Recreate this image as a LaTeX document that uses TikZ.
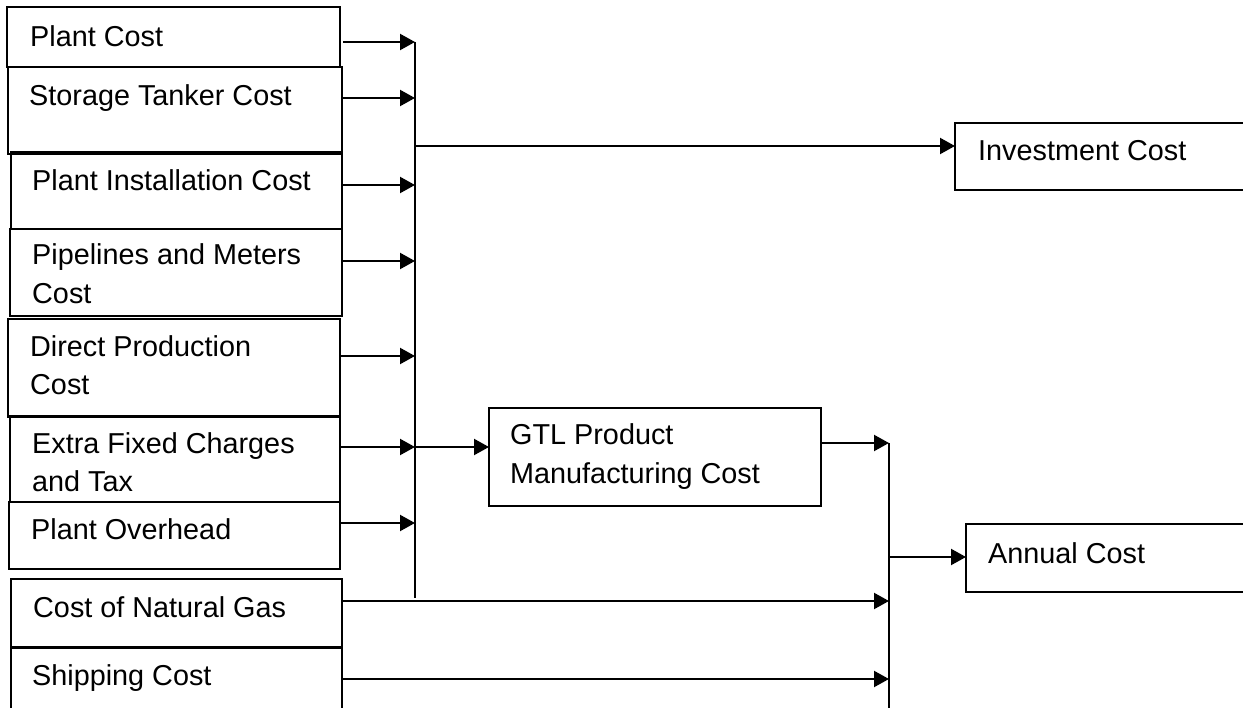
\documentclass[tikz,border=0pt]{standalone}
\usepackage{fontspec}
\setmainfont{Liberation Sans}
\usetikzlibrary{arrows.meta}
\begin{document}
\begin{tikzpicture}[x=1pt,y=-1pt,
  box/.style={draw,line width=2.1pt,inner sep=0pt,outer sep=0pt},
  txt/.style={anchor=base west,inner sep=0pt,font=\fontsize{28.8}{38}\selectfont},
  conn/.style={line width=2.1pt},
  arr/.style={line width=2.1pt,-{Triangle[length=15pt,width=16pt]}}]
\useasboundingbox (0,0) rectangle (1243,708);
\clip (0,0) rectangle (1243,708);
% boxes
\node[box,minimum width=333pt,minimum height=60pt,anchor=north west] (b1) at (7,7) {};
\node[box,minimum width=334pt,minimum height=87pt,anchor=north west] (b2) at (8,67) {};
\node[box,minimum width=331pt,minimum height=77pt,anchor=north west] (b3) at (11,152) {};
\node[box,minimum width=332pt,minimum height=87pt,anchor=north west] (b4) at (10,229) {};
\node[box,minimum width=332pt,minimum height=98pt,anchor=north west] (b5) at (8,319) {};
\node[box,minimum width=330pt,minimum height=86pt,anchor=north west] (b6) at (10,416) {};
\node[box,minimum width=331pt,minimum height=67pt,anchor=north west] (b7) at (9,502) {};
\node[box,minimum width=331pt,minimum height=68pt,anchor=north west] (b8) at (11,579) {};
\node[box,minimum width=331pt,minimum height=90pt,anchor=north west] (b9) at (11,648) {};
\node[box,minimum width=332pt,minimum height=98pt,anchor=north west] (gtl) at (489,408) {};
\node[box,minimum width=320pt,minimum height=67pt,anchor=north west] (inv) at (955,123) {};
\node[box,minimum width=320pt,minimum height=68pt,anchor=north west] (ann) at (966,524) {};
% texts
\node[txt] (t1) at (30,47) {Plant Cost};
\node[txt] (t2) at (29,106) {Storage Tanker Cost};
\node[txt] (t3) at (32,191) {Plant Installation Cost};
\node[txt] (t4a) at (32,265) {Pipelines and Meters};
\node[txt] (t4b) at (32,304) {Cost};
\node[txt] (t5a) at (30,357) {Direct Production};
\node[txt] (t5b) at (30,395) {Cost};
\node[txt] (t6a) at (32,454) {Extra Fixed Charges};
\node[txt] (t6b) at (32,492) {and Tax};
\node[txt] (t7) at (31,539) {Plant Overhead};
\node[txt] (t8) at (33,617) {Cost of Natural Gas};
\node[txt] (t9) at (32,685) {Shipping Cost};
\node[txt] (tg1) at (510,445) {GTL Product};
\node[txt] (tg2) at (510,484) {Manufacturing Cost};
\node[txt] (ti) at (978,161) {Investment Cost};
\node[txt] (ta) at (988,563) {Annual Cost};
% bus 1 junctions
\coordinate (j1) at (415,42);
\coordinate (j2) at (415,98);
\coordinate (jinv) at (415,146);
\coordinate (j3) at (415,185);
\coordinate (j4) at (415,261);
\coordinate (j5) at (415,356);
\coordinate (j6) at (415,447);
\coordinate (j7) at (415,523);
\coordinate (jend) at (415,598);
\draw[conn] (j1) -- (jend);
\draw[arr] ([xshift=3pt]b1.east |- j1) -- (j1);
\draw[arr] (b2.east |- j2) -- (j2);
\draw[arr] (b3.east |- j3) -- (j3);
\draw[arr] (b4.east |- j4) -- (j4);
\draw[arr] (b5.east |- j5) -- (j5);
\draw[arr] (b6.east |- j6) -- (j6);
\draw[arr] (b7.east |- j7) -- (j7);
\draw[arr] (jinv) -- (inv.west |- jinv);
\draw[arr] (j6) -- (gtl.west |- j6);
% bus 2
\coordinate (k1) at (889,443);
\coordinate (kann) at (889,557);
\coordinate (k2) at (889,601);
\coordinate (k3) at (889,679);
\coordinate (kend) at (889,712);
\draw[conn] (k1) -- (kend);
\draw[arr] (gtl.east |- k1) -- (k1);
\draw[arr] (b8.east |- k2) -- (k2);
\draw[arr] (b9.east |- k3) -- (k3);
\draw[arr] (kann) -- (ann.west |- kann);
\end{tikzpicture}
\end{document}
